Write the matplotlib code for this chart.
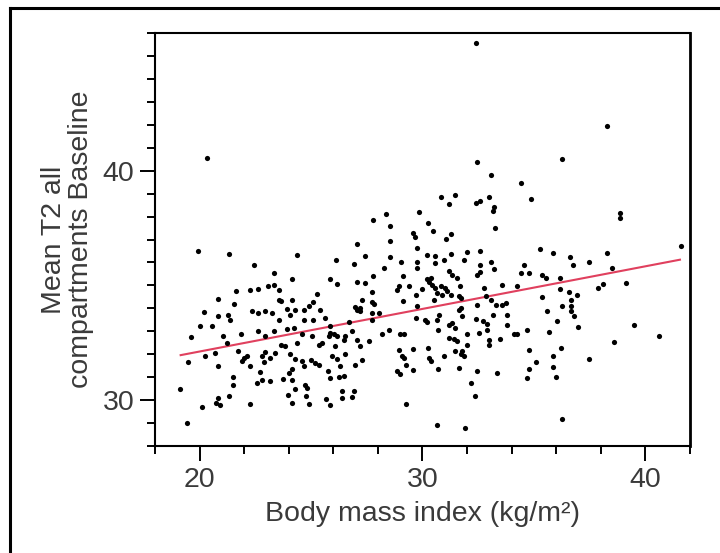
"""
Mean T2 (all compartments, baseline) vs body mass index scatter with fitted line.
"""

import matplotlib
matplotlib.use('Agg')
import matplotlib.pyplot as plt
from matplotlib.lines import Line2D
from matplotlib.ticker import MultipleLocator, FixedLocator
import numpy as np

plt.rcParams['font.family'] = ['Liberation Sans', 'DejaVu Sans']

# ── data ──
bmi = [
    19.92, 21.33, 22.44, 24.35, 23.35, 24.14, 25.87, 26.13, 21.64, 22.26,
    22.64, 23.09, 23.32, 23.57, 20.82, 21.54, 23.57, 23.66, 24.14, 25.27,
    25.11, 20.22, 20.84, 21.27, 21.37, 22.35, 22.64, 22.94, 23.24, 23.57,
    23.92, 24.07, 24.29, 24.67, 24.89, 25.42, 24.67, 25.11, 25.64, 20.02,
    20.55, 21.07, 21.87, 22.64, 23.32, 23.92, 24.22, 24.59, 25.04, 25.87,
    19.62, 22.94, 21.22, 20.25, 20.70, 19.50, 20.82, 21.72, 21.97, 21.90,
    22.12, 22.27, 22.80, 22.94, 22.87, 23.17, 23.39, 23.66, 23.84, 24.37,
    24.07, 24.26, 24.59, 25.01, 25.19, 25.34, 24.67, 24.14, 23.99, 25.76,
    25.87, 25.94, 25.34, 25.49, 25.79, 22.72, 21.52, 21.52, 22.57, 22.80,
    23.17, 23.74, 24.14, 24.29, 24.71, 24.82, 19.12, 20.82, 21.33, 20.74,
    20.92, 20.13, 22.27, 23.96, 24.14, 24.77, 24.92, 25.67, 25.87, 19.42,
    33.09, 30.85, 31.47, 31.17, 32.38, 32.58, 32.98, 33.20, 33.16, 33.25,
    29.85, 28.38, 27.77, 28.56, 30.26, 30.46, 29.58, 29.65, 31.26, 31.07,
    27.07, 28.53, 29.76, 27.44, 28.56, 26.94, 28.26, 29.04, 29.76, 29.76,
    30.18, 30.58, 30.58, 30.96, 31.29, 31.98, 31.86, 32.58, 32.58, 33.09,
    33.20, 31.18, 31.33, 31.56, 32.46, 32.58, 29.13, 27.77, 26.17, 27.07,
    27.44, 27.74, 27.29, 27.74, 27.81, 26.99, 27.21, 28.93, 28.86, 29.38,
    29.13, 29.69, 29.99, 30.21, 30.36, 30.28, 30.44, 30.58, 30.81, 31.03,
    31.11, 30.89, 30.66, 31.26, 31.63, 31.74, 31.68, 32.76, 33.58, 30.51,
    32.46, 32.83, 33.06, 33.28, 33.58, 33.73, 29.76, 31.71, 27.07, 27.21,
    27.74, 28.04, 27.74, 26.69, 25.87, 26.01, 26.17, 26.46, 26.54, 26.84,
    27.07, 27.21, 27.59, 28.19, 28.49, 29.01, 29.16, 29.69, 30.13, 30.21,
    30.73, 30.66, 30.69, 31.18, 31.33, 31.44, 31.63, 31.78, 31.18, 31.40,
    31.56, 32.01, 31.98, 32.38, 32.73, 32.91, 32.53, 32.91, 33.18, 33.81,
    33.78, 32.98, 32.98, 33.47, 26.09, 26.17, 26.54, 27.29, 26.99, 26.31,
    26.24, 26.46, 26.39, 26.39, 26.91, 26.84, 28.93, 29.09, 29.16, 29.58,
    28.86, 29.01, 29.28, 29.58, 30.24, 30.28, 30.36, 30.96, 30.69, 31.48,
    31.71, 31.86, 31.78, 31.63, 32.46, 33.36, 32.16, 32.34, 29.24, 30.66,
    31.89, 34.26, 35.38, 36.17, 36.58, 36.95, 36.68, 36.65, 36.28, 35.57,
    36.68, 36.80, 37.88, 38.08, 39.12, 36.02, 36.98, 35.68, 34.67, 34.26,
    34.10, 34.78, 36.20, 35.87, 35.08, 34.78, 34.67, 35.87, 35.98, 37.47,
    38.60, 39.50, 40.59, 36.28, 34.40, 34.89, 36.28, 38.27, 38.87, 38.87,
    35.27, 35.87, 36.62, 36.77, 37.47, 38.27, 38.48, 41.60, 34.55, 34.40,
    34.78, 35.38, 35.53, 36.17, 32.38, 32.46, 20.35,
]
mean_t2 = [
    36.51, 36.37, 35.91, 36.32, 35.52, 35.30, 35.30, 36.12, 34.77, 34.81,
    34.84, 34.96, 35.03, 34.81, 34.41, 34.20, 34.38, 34.30, 34.37, 34.64,
    34.26, 33.83, 33.68, 33.73, 33.51, 33.90, 33.80, 33.90, 33.80, 33.47,
    33.97, 33.73, 33.94, 33.94, 34.12, 33.94, 33.47, 33.47, 33.58, 33.22,
    33.22, 32.81, 32.86, 33.00, 33.00, 33.10, 33.15, 32.86, 32.81, 32.93,
    32.74, 32.78, 32.50, 31.94, 32.06, 31.65, 31.48, 32.16, 31.84, 31.70,
    31.91, 31.48, 31.94, 32.09, 31.65, 31.84, 32.06, 32.42, 32.35, 32.50,
    31.99, 31.77, 31.70, 31.73, 31.63, 31.51, 31.48, 31.37, 31.19, 31.26,
    30.97, 31.91, 32.42, 32.50, 32.78, 31.22, 31.00, 30.64, 30.76, 30.87,
    30.83, 30.90, 30.87, 30.50, 30.64, 30.54, 30.47, 30.10, 30.17, 29.86,
    29.77, 29.70, 29.84, 30.22, 29.86, 30.17, 29.81, 30.06, 29.77, 28.99,
    39.81, 38.87, 38.94, 38.54, 38.61, 38.68, 38.84, 38.41, 38.26, 37.50,
    38.19, 38.12, 37.86, 37.61, 37.71, 37.38, 37.30, 37.13, 37.25, 37.03,
    36.80, 36.94, 36.65, 36.30, 36.23, 35.93, 35.74, 36.00, 36.00, 35.76,
    36.33, 36.29, 35.97, 36.09, 36.38, 36.45, 36.12, 36.48, 35.90, 36.00,
    35.71, 35.61, 35.47, 35.32, 35.47, 35.57, 35.39, 35.42, 35.07, 35.13,
    35.10, 34.70, 34.38, 34.26, 34.20, 34.06, 34.02, 34.96, 34.81, 34.96,
    34.30, 34.60, 34.86, 35.28, 35.32, 35.13, 35.03, 34.89, 34.96, 34.89,
    34.74, 34.60, 34.67, 34.60, 34.52, 34.45, 34.96, 34.89, 35.03, 34.35,
    34.16, 34.52, 34.35, 34.16, 34.16, 34.23, 34.09, 34.02, 33.94, 33.87,
    33.80, 33.80, 33.51, 33.39, 33.25, 32.86, 32.78, 32.64, 32.78, 33.00,
    32.64, 32.38, 32.57, 32.86, 33.07, 32.86, 32.86, 33.58, 33.51, 33.39,
    33.73, 33.51, 33.07, 33.29, 33.37, 33.15, 33.94, 33.65, 32.71, 32.67,
    32.57, 32.86, 32.42, 33.54, 33.43, 33.33, 32.93, 33.07, 33.73, 33.73,
    33.29, 32.64, 32.42, 32.67, 32.35, 31.80, 31.99, 31.73, 31.55, 31.48,
    31.02, 31.04, 30.39, 30.10, 30.39, 30.15, 32.20, 31.94, 31.84, 32.23,
    31.29, 31.12, 31.55, 31.33, 32.28, 31.84, 31.70, 31.91, 31.37, 32.13,
    31.99, 31.91, 32.13, 31.41, 31.26, 31.19, 30.76, 30.20, 29.84, 28.91,
    28.80, 34.96, 34.50, 34.84, 34.70, 34.60, 34.38, 34.12, 34.12, 33.87,
    33.87, 33.68, 34.89, 35.07, 35.10, 33.43, 33.17, 32.96, 33.07, 32.90,
    32.86, 32.20, 32.25, 31.91, 31.65, 31.37, 30.97, 31.45, 31.00, 31.81,
    32.55, 33.26, 32.78, 29.19, 39.48, 38.76, 40.51, 41.96, 38.15, 37.93,
    36.58, 36.41, 36.23, 35.90, 36.02, 36.41, 35.76, 36.70, 35.87, 35.54,
    35.54, 35.47, 35.32, 35.32, 45.57, 40.39, 40.54,
]

# fitted line end points
fit_bmi = [19.15, 41.55]
fit_t2 = [31.96, 36.12]

X_LIM = (18, 42)
Y_LIM = (28, 46)
X_MAJOR = [20, 30, 40]
Y_MAJOR = [30, 40]

TEXT_COLOR = '#3a3a3a'


def main():
    fig = plt.figure(figsize=(7.2, 5.53), dpi=100)
    ax = fig.add_axes([0.2153, 0.1935, 0.743, 0.7468])

    ax.scatter(bmi, mean_t2, s=14, color='black', marker='o', linewidths=0, zorder=3)
    ax.plot(fit_bmi, fit_t2, color='#e0405e', linewidth=1.5, zorder=2)

    ax.set_xlim(*X_LIM)
    ax.set_ylim(*Y_LIM)

    ax.xaxis.set_major_locator(FixedLocator(X_MAJOR))
    ax.xaxis.set_minor_locator(MultipleLocator(2))
    ax.yaxis.set_major_locator(FixedLocator(Y_MAJOR))
    ax.yaxis.set_minor_locator(MultipleLocator(1))

    ax.tick_params(which='major', direction='out', length=11, width=1.4,
                   labelsize=20.5, labelcolor=TEXT_COLOR, pad=4)
    ax.tick_params(which='minor', direction='out', length=5.5, width=1.4)

    for side in ['left', 'bottom', 'top']:
        ax.spines[side].set_linewidth(1.5)
    ax.spines['right'].set_linewidth(2.0)

    ax.set_xlabel('Body mass index (kg/m²)', fontsize=20.5, color=TEXT_COLOR, labelpad=6)
    ax.set_ylabel('Mean T2 all\ncompartments Baseline', fontsize=20.5, color=TEXT_COLOR,
                  labelpad=6, linespacing=1.05)

    # outer frame (left and top edges visible in the reference)
    fx = 10 / 720
    fy = 1 - 8 / 553
    fig.add_artist(Line2D([fx, fx], [0, fy], transform=fig.transFigure,
                          color='black', linewidth=2.2))
    fig.add_artist(Line2D([fx, 1], [fy, fy], transform=fig.transFigure,
                          color='black', linewidth=2.2))

    fig.savefig('out.png', dpi=100)
    plt.close(fig)


if __name__ == '__main__':
    main()
